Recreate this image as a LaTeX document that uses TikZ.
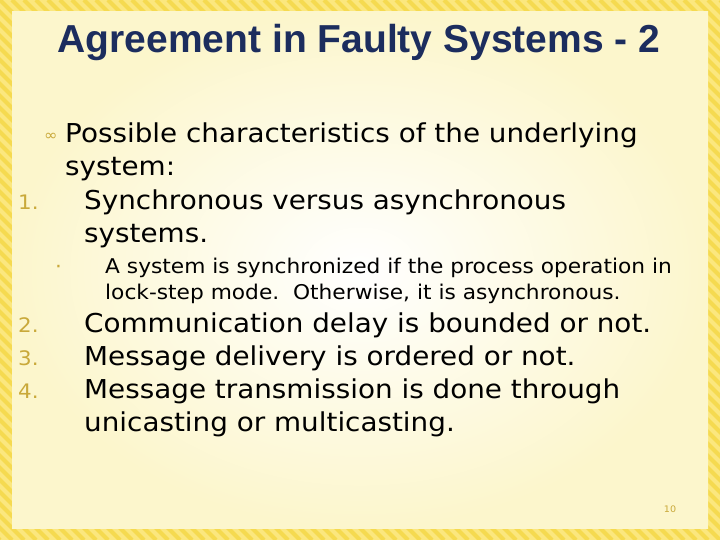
\documentclass[tikz,border=0pt]{standalone}
\usepackage{fontspec}
\setmainfont[FakeStretch=1.07]{DejaVu Sans}
\newfontfamily\titlefont{Liberation Sans}
\begin{document}
\begin{tikzpicture}[x=1pt,y=-1pt,
  body/.style={anchor=base west,inner sep=0,font=\fontsize{26}{30}\selectfont,text=black},
  small/.style={anchor=base west,inner sep=0,font=\fontsize{20.3}{22}\selectfont,text=black},
  num/.style={anchor=base west,inner sep=0,font=\fontsize{20}{22}\selectfont,text=numcol}]
\definecolor{stripe1}{HTML}{FBE77E}
\definecolor{stripe2}{HTML}{F5DA50}
\definecolor{inner}{HTML}{FCF6CC}
\definecolor{numcol}{HTML}{C9A93A}
\definecolor{titlecol}{HTML}{1C2D5E}
\useasboundingbox (0,0) rectangle (720,540);
\fill[stripe1] (0,0) rectangle (720,540);
\begin{scope}
\clip (0,0) rectangle (720,540);
\foreach \i in {-600,-588,...,800} \draw[stripe2,line width=4] (\i,0) -- (\i+540,540);
\end{scope}
\shade[inner color=white,outer color=inner] (12,12) rectangle (708,528);
\node[font=\titlefont\bfseries\fontsize{39}{44}\selectfont,text=titlecol,anchor=base,inner sep=0] (title) at (359,53) {Agreement in Faulty Systems - 2};
\node[anchor=base west,inner sep=0,text=numcol,font=\fontsize{15}{16}\selectfont] (b0) at (44,141) {∞};
\node[body] (l1) at (65,143) {Possible characteristics of the underlying};
\node[body] (l2) at (65,176) {system:};
\node[num] (n1) at (18,210) {1.};
\node[body] (l3) at (84,210) {Synchronous versus asynchronous};
\node[body] (l4) at (84,243) {systems.};
\node[num] (sb) at (55,273) {·};
\node[small] (s1) at (105,273) {A system is synchronized if the process operation in};
\node[small] (s2) at (105,299) {lock-step mode.\ \ Otherwise, it is asynchronous.};
\node[num] (n2) at (18,332) {2.};
\node[body] (l5) at (84,332) {Communication delay is bounded or not.};
\node[num] (n3) at (18,365) {3.};
\node[body] (l6) at (84,365) {Message delivery is ordered or not.};
\node[num] (n4) at (18,398) {4.};
\node[body] (l7) at (84,398) {Message transmission is done through};
\node[body] (l8) at (84,431) {unicasting or multicasting.};
\node[anchor=base,inner sep=0,text=numcol,font=\fontsize{9}{10}\selectfont] (pg) at (670,512) {10};
\end{tikzpicture}
\end{document}
